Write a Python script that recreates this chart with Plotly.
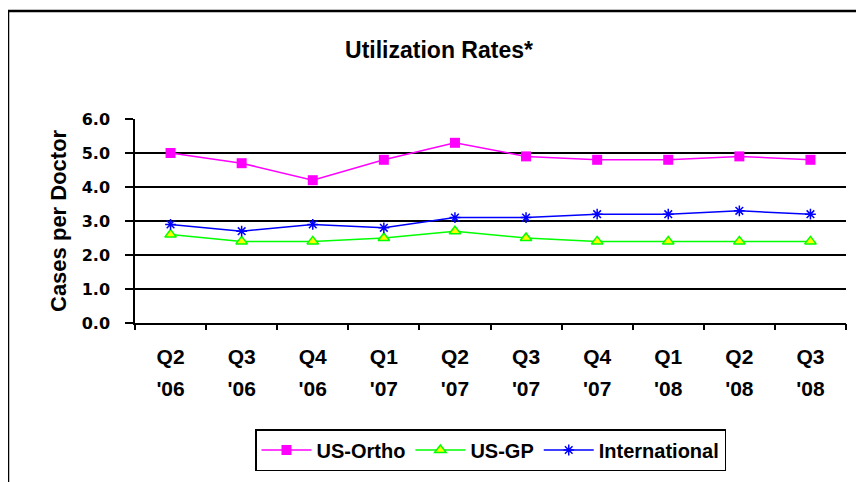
import plotly.graph_objects as go

quarter_names = ["Q2", "Q3", "Q4", "Q1", "Q2", "Q3", "Q4", "Q1", "Q2", "Q3"]
year_names = ["'06", "'06", "'06", "'07", "'07", "'07", "'07", "'08", "'08", "'08"]
us_ortho = [5.0, 4.7, 4.2, 4.8, 5.3, 4.9, 4.8, 4.8, 4.9, 4.8]
us_gp = [2.6, 2.4, 2.4, 2.5, 2.7, 2.5, 2.4, 2.4, 2.4, 2.4]
international = [2.9, 2.7, 2.9, 2.8, 3.1, 3.1, 3.2, 3.2, 3.3, 3.2]

positions = list(range(len(quarter_names)))

W, H = 864, 482
OFF = 8  # page body margin
L, T = 135 - OFF, 119 - OFF
pw, ph = 711, 204
R, B = W - L - pw, H - T - ph

def px_x(p):
    return (p - OFF - L) / pw

def px_y(q):
    return (T + ph - (q - OFF)) / ph

fig = go.Figure()
fig.add_trace(go.Scatter(
    x=positions, y=us_ortho, name="US-Ortho", mode="lines+markers",
    line=dict(color="#FF00FF", width=1.5),
    marker=dict(symbol="square", size=10, color="#FF00FF")))
fig.add_trace(go.Scatter(
    x=positions, y=us_gp, name="US-GP", mode="lines+markers",
    line=dict(color="#00FF00", width=1.5),
    marker=dict(symbol="triangle-up", size=10, color="#FFFF00",
                line=dict(color="#00FF00", width=1.5))))
fig.add_trace(go.Scatter(
    x=positions, y=international, name="International", mode="lines+markers",
    line=dict(color="#0000FF", width=1.5),
    marker=dict(symbol="asterisk-open", size=9, color="#0000FF",
                line=dict(color="#0000FF", width=1.5))))
# invisible helpers so the overlay axes (boundary ticks, year labels) are drawn
for ax in ("x2", "x3"):
    fig.add_trace(go.Scatter(x=positions, y=us_ortho, xaxis=ax, mode="lines",
                             opacity=0, showlegend=False, hoverinfo="skip"))

xfont = dict(family="Liberation Sans", size=21, color="black", weight="bold")
xr = [-0.5, len(positions) - 0.5]
boundaries = [p - 0.5 for p in positions] + [positions[-1] + 0.5]

fig.update_layout(
    width=W, height=H,
    margin=dict(l=L, r=R, t=T, b=B, autoexpand=False),
    paper_bgcolor="white", plot_bgcolor="white",
    title=dict(text="<b>Utilization Rates*</b>", x=(439 - OFF) / W, xanchor="center",
               y=1 - (50 - OFF) / H, yanchor="middle",
               font=dict(family="Liberation Sans", size=23, color="black")),
    xaxis=dict(range=xr, showgrid=False, zeroline=False,
               showline=True, linecolor="black", linewidth=1.5,
               tickmode="array", tickvals=positions, ticktext=quarter_names,
               ticks="", ticklabelstandoff=14, tickfont=xfont),
    xaxis2=dict(range=xr, overlaying="x", anchor="y", side="bottom",
                showgrid=False, zeroline=False, showline=False,
                tickmode="array", tickvals=boundaries,
                ticktext=[""] * len(boundaries),
                ticks="outside", ticklen=6, tickcolor="black", tickwidth=1.5),
    xaxis3=dict(range=xr, overlaying="x", anchor="y", side="bottom",
                showgrid=False, zeroline=False, showline=False,
                tickmode="array", tickvals=positions, ticktext=year_names,
                ticks="", ticklabelstandoff=51, tickfont=xfont),
    yaxis=dict(range=[0, 6], dtick=1, tickformat=".1f",
               showgrid=True, gridcolor="black", gridwidth=1.5,
               zeroline=False, showline=True, linecolor="black", linewidth=1.5,
               ticks="outside", ticklen=8, tickcolor="black", tickwidth=1.5,
               ticklabelstandoff=12,
               tickfont=dict(family="DejaVu Sans", size=16, color="black",
                             weight="bold")),
    legend=dict(orientation="h", x=0.5, xanchor="center",
                y=px_y(429), yanchor="top",
                bordercolor="black", borderwidth=1.5, bgcolor="white",
                font=dict(family="Liberation Sans", size=20, color="black",
                          weight="bold"),
                itemwidth=50),
    annotations=[dict(text="<b>Cases per Doctor</b>", textangle=-90,
                      xref="paper", yref="paper", x=px_x(58), y=0.5,
                      xanchor="center", yanchor="middle", showarrow=False,
                      font=dict(family="Liberation Sans", size=22, color="black"))],
    shapes=[dict(type="path", xref="paper", yref="paper",
                 path=f"M {px_x(8)} {px_y(520)} L {px_x(8)} {px_y(11)} L {px_x(900)} {px_y(11)}",
                 line=dict(color="black", width=2.5))],
    showlegend=True,
)

fig.write_html("out.html")
